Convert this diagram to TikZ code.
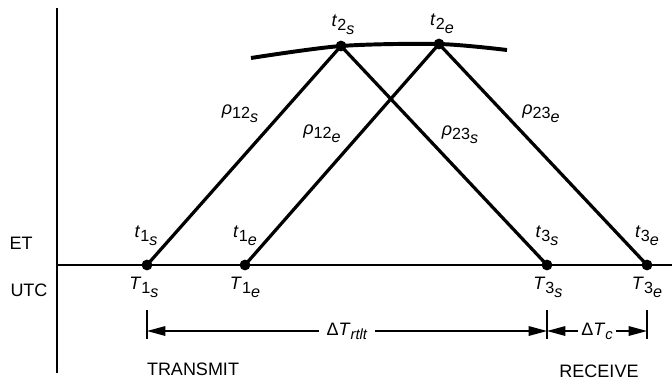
\documentclass[tikz,border=0pt]{standalone}
\usepackage{fontspec}
\setmainfont{Liberation Sans}
\usetikzlibrary{arrows.meta}
% letter with a two-step lowered subscript
\newcommand\tlab[3]{\textit{#1}\raisebox{-2.8pt}{\fontsize{11.5}{12}\selectfont #2\raisebox{-2.8pt}{\textit{#3}}}}
\newcommand\dlab[1]{Δ\textit{T}\raisebox{-3pt}{\fontsize{10.5}{11}\selectfont\textit{#1}}}
\tikzset{
  axis/.style  = {line width=1.9pt},
  ray/.style   = {line width=2.3pt},
  orbit/.style = {line width=2.8pt},
  dot/.style   = {circle, fill=black, inner sep=0pt, minimum size=0.27cm},
  lbl/.style   = {font=\fontsize{12.8}{15}\selectfont, inner sep=1pt},
  tick/.style  = {line width=1pt},
  dim/.style   = {line width=1pt,
                  {Triangle[length=4.6mm,width=2.4mm]}-{Triangle[length=4.6mm,width=2.4mm]}},
}

\begin{document}
\begin{tikzpicture}[x=0.025cm, y=-0.025cm]
  \useasboundingbox (0,0) rectangle (672,384);

  % axes
  \coordinate (axTop) at (57,8);
  \coordinate (axBot) at (57,373);
  \coordinate (hR) at (672,265);
  \draw[axis] (axTop) -- (axBot);
  \draw[axis] (axTop |- hR) -- (hR);
  \node[lbl] (et) at (21,243) {ET};
  \node[lbl] (utc) at (29,290) {UTC};

  % event points
  \node[dot] (T1s) at (147,265) {};
  \node[dot] (T1e) at (245,265) {};
  \node[dot] (T3s) at (547,265) {};
  \node[dot] (T3e) at (647,265) {};
  \node[dot] (t2s) at (341,46) {};
  \node[dot] (t2e) at (439,44) {};

  % orbit arc
  \coordinate (arcL) at (251,58);
  \coordinate (arcR) at (507,50);
  \draw[orbit] plot[smooth, tension=0.5] coordinates {(arcL) (t2s.center) (t2e.center) (arcR)};

  % light paths
  \draw[ray] (T1s.center) -- (t2s.center) -- (T3s.center);
  \draw[ray] (T1e.center) -- (t2e.center) -- (T3e.center);

  % labels
  \node[lbl] at (146,236) {\tlab{t}{1}{s}};
  \node[lbl] at (245,236) {\tlab{t}{1}{e}};
  \node[lbl] at (547,236) {\tlab{t}{3}{s}};
  \node[lbl] at (647,236) {\tlab{t}{3}{e}};
  \node[lbl] at (144,287) {\tlab{T}{1}{s}};
  \node[lbl] at (245,287) {\tlab{T}{1}{e}};
  \node[lbl] at (548,287) {\tlab{T}{3}{s}};
  \node[lbl] at (647,287) {\tlab{T}{3}{e}};
  \node[lbl] at (343,25) {\tlab{t}{2}{s}};
  \node[lbl] at (442,24) {\tlab{t}{2}{e}};
  \node[lbl] at (240,114) {\tlab{ρ}{12}{s}};
  \node[lbl] at (322,134) {\tlab{ρ}{12}{e}};
  \node[lbl] at (460,135) {\tlab{ρ}{23}{s}};
  \node[lbl] at (541,114) {\tlab{ρ}{23}{e}};

  % intervals
  \draw[tick] (147,310 -| T1s) -- (147,339 -| T1s);
  \draw[tick] (547,310 -| T3s) -- (547,339 -| T3s);
  \draw[tick] (647,310 -| T3e) -- (647,339 -| T3e);
  \draw[dim] (T1s |- 0,331) -- (T3s |- 0,331)
    node[lbl, midway, fill=white, inner xsep=5pt, inner ysep=2pt] (rtlt) {\dlab{rtlt}};
  \draw[dim] (T3s |- 0,331) -- (T3e |- 0,331)
    node[lbl, midway, fill=white, inner xsep=2pt, inner ysep=2pt] (dtc) {\dlab{c}};

  \node[lbl] (tx) at (193,369) {TRANSMIT};
  \node[lbl] (rx) at (599,371) {RECEIVE};
\end{tikzpicture}
\end{document}
